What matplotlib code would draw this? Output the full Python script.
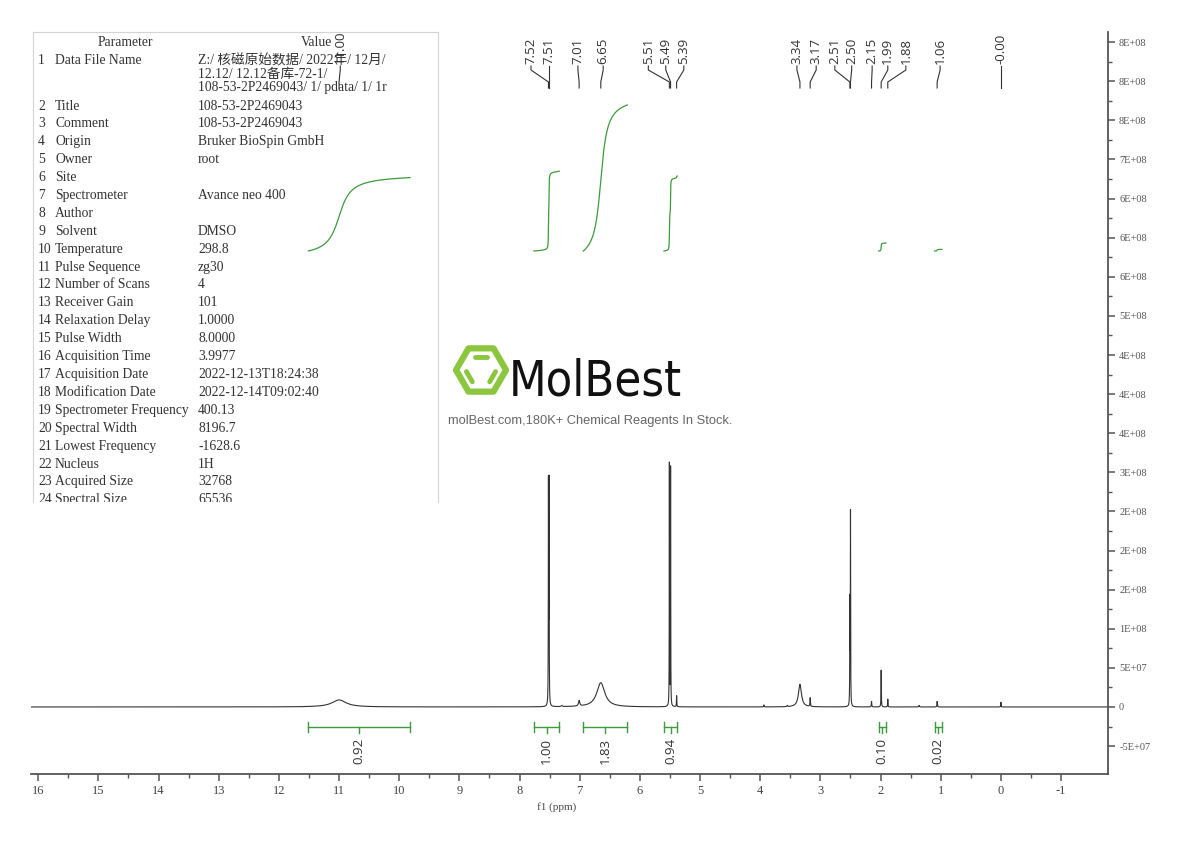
import matplotlib
matplotlib.use('Agg')
import matplotlib.pyplot as plt
import matplotlib.transforms as mtransforms
from matplotlib.patches import RegularPolygon
import numpy as np

W, H = 1190, 841
SERIF = ['Liberation Serif', 'Noto Sans CJK SC']
SANS = ['Open Sans', 'DejaVu Sans']
GREEN = '#3d9a3d'
LOGO_GREEN = '#8cc63f'
AXC = '#555555'

# ── spectrum peaks (ppm, height, half width) ──
peak_ppm = [11.00, 7.52, 7.51, 7.30, 7.01, 6.65, 5.51, 5.49, 5.39, 3.94, 3.55,
            3.34, 3.17, 2.51, 2.50, 2.15, 1.99, 1.88, 1.36, 1.06, 0.00]
peak_height = [9e6, 2.8e8, 2.8e8, 1.5e6, 7e6, 3.1e7, 3.1e8, 3.05e8, 1.4e7, 2.5e6, 1.5e6,
               2.9e7, 1.1e7, 1.3e8, 2.45e8, 7e6, 4.7e7, 1.0e7, 2e6, 7e6, 6e6]
peak_hwhm = [0.143, 0.0025, 0.0025, 0.01, 0.012, 0.08, 0.0022, 0.0022, 0.003, 0.004, 0.006,
             0.03, 0.004, 0.0025, 0.0025, 0.004, 0.003, 0.003, 0.006, 0.004, 0.003]

# ── peak labels ──
label_text = ['11.00', '7.52', '7.51', '7.01', '6.65', '5.51', '5.49', '5.39', '3.34', '3.17',
              '2.51', '2.50', '2.15', '1.99', '1.88', '1.06', '-0.00']
label_peak = [11.00, 7.52, 7.51, 7.01, 6.65, 5.51, 5.49, 5.39, 3.34, 3.17,
              2.51, 2.50, 2.15, 1.99, 1.88, 1.06, 0.00]
label_at = [10.98, 7.81, 7.51, 7.03, 6.61, 5.86, 5.57, 5.27, 3.39, 3.07,
            2.76, 2.48, 2.14, 1.88, 1.58, 1.01, 0.00]

# ── integrals ──
int_from = [11.51, 7.76, 6.94, 5.60, 2.03, 1.10]
int_to = [9.82, 7.34, 6.21, 5.38, 1.91, 0.98]
int_value = [0.92, 1.00, 1.83, 0.94, 0.10, 0.02]

# ── axis ticks ──
xticks = [16, 15, 14, 13, 12, 11, 10, 9, 8, 7, 6, 5, 4, 3, 2, 1, 0, -1]
ytick_vals = [-5e7, 0, 5e7, 1e8, 1.5e8, 2e8, 2.5e8, 3e8, 3.5e8, 4e8, 4.5e8,
              5e8, 5.5e8, 6e8, 6.5e8, 7e8, 7.5e8, 8e8, 8.5e8]
ytick_labels = ['-5E+07', '0', '5E+07', '1E+08', '2E+08', '2E+08', '2E+08', '3E+08', '4E+08',
                '4E+08', '4E+08', '5E+08', '6E+08', '6E+08', '6E+08', '7E+08', '8E+08',
                '8E+08', '8E+08']

# ── parameter table ──
param_name = ['Data File Name', 'Title', 'Comment', 'Origin', 'Owner', 'Site', 'Spectrometer',
              'Author', 'Solvent', 'Temperature', 'Pulse Sequence', 'Number of Scans',
              'Receiver Gain', 'Relaxation Delay', 'Pulse Width', 'Acquisition Time',
              'Acquisition Date', 'Modification Date', 'Spectrometer Frequency',
              'Spectral Width', 'Lowest Frequency', 'Nucleus', 'Acquired Size', 'Spectral Size']
param_value = ['Z:/ 核磁原始数据/ 2022年/ 12月/\n12.12/ 12.12备库-72-1/\n108-53-2P2469043/ 1/ pdata/ 1/ 1r',
               '108-53-2P2469043', '108-53-2P2469043', 'Bruker BioSpin GmbH', 'root', '',
               'Avance neo 400', '', 'DMSO', '298.8', 'zg30', '4', '101', '1.0000', '8.0000',
               '3.9977', '2022-12-13T18:24:38', '2022-12-14T09:02:40', '400.13', '8196.7',
               '-1628.6', '1H', '32768', '65536']

fig = plt.figure(figsize=(W / 100, H / 100), dpi=100)
fig.patch.set_facecolor('white')

# watermark layer, pixel coordinates
wm = fig.add_axes([0, 0, 1, 1], zorder=1)
wm.set_xlim(0, W)
wm.set_ylim(H, 0)
wm.axis('off')
cx, cy, R = 481, 370, 25
wm.add_patch(RegularPolygon((cx, cy), 6, radius=R, orientation=np.pi / 6,
                            fill=False, edgecolor=LOGO_GREEN, lw=4.5, joinstyle='round'))
ang = np.deg2rad([0, 60, 120, 180, 240, 300])
vx = cx + 0.62 * R * np.cos(ang)
vy = cy - 0.62 * R * np.sin(ang)
for i in [1, 3, 5]:
    x0, y0, x1, y1 = vx[i], vy[i], vx[(i + 1) % 6], vy[(i + 1) % 6]
    t0, t1 = 0.12, 0.88
    wm.plot([x0 + (x1 - x0) * t0, x0 + (x1 - x0) * t1],
            [y0 + (y1 - y0) * t0, y0 + (y1 - y0) * t1],
            color=LOGO_GREEN, lw=3.5, solid_capstyle='round')
wm.text(509, 395, 'MolBest', fontsize=35, color='#111111', ha='left', va='baseline',
        family=['Liberation Sans Narrow', 'DejaVu Sans'], fontstretch='condensed')
wm.text(448, 421, 'molBest.com,180K+ Chemical Reagents In Stock.', fontsize=9.3,
        color='#666666', ha='left', va='center', family=['Liberation Sans', 'DejaVu Sans'])

# parameter table, pixel coordinates
tb = fig.add_axes([33 / W, 1 - 502 / H, (438 - 33) / W, (502 - 32) / H], zorder=2)
tb.set_xlim(33, 438)
tb.set_ylim(502, 32)
tb.set_xticks([])
tb.set_yticks([])
for side in ['left', 'top', 'right']:
    tb.spines[side].set_color('#d4d4d4')
tb.spines['bottom'].set_visible(False)
tk = dict(fontsize=9.8, color='#333333', family=SERIF, va='center', clip_on=True)
tb.text(125, 43, 'Parameter', ha='center', **tk)
tb.text(316, 43, 'Value', ha='center', **tk)
for i, (name, val) in enumerate(zip(param_name, param_value)):
    y = 61 if i == 0 else 106 + (i - 1) * 17.9
    tb.text(38, y, str(i + 1), ha='left', **tk)
    tb.text(55, y, name, ha='left', **tk)
    for j, line in enumerate(val.split('\n')):
        tb.text(198, y + j * 13.5, line, ha='left', **tk)

# spectrum axes
ax = fig.add_axes([31 / W, 1 - 774 / H, (1108 - 31) / W, (774 - 32) / H], zorder=3)
ax.patch.set_visible(False)
ppm = np.linspace(16.12, -1.78, 60000)
spec = np.zeros_like(ppm)
for c, h, w in zip(peak_ppm, peak_height, peak_hwhm):
    spec += h / (1 + ((ppm - c) / w) ** 2)
ax.plot(ppm, spec, color='#333333', lw=0.8)
ax.set_xlim(16.12, -1.78)
ax.set_ylim(-8.57e7, 8.63e8)

# integral curves and bars
int_base = 5.83e8
int_scale = 1.02e8
bar_y = -2.56e7
for a, b, v in zip(int_from, int_to, int_value):
    m = (ppm <= a) & (ppm >= b)
    cum = np.cumsum(spec[m])
    cum = cum / cum[-1]
    ax.plot(ppm[m], int_base + v * int_scale * cum, color=GREEN, lw=0.9)
    ax.plot([a, b], [bar_y, bar_y], color=GREEN, lw=1)
    for e in (a, b):
        ax.plot([e, e], [bar_y - 6e6, bar_y + 6e6], color=GREEN, lw=1)
    mid = (a + b) / 2
    ax.plot([mid, mid], [bar_y, bar_y - 8e6], color=GREEN, lw=1)
    ax.text(mid, bar_y - 1.4e7, '{:.2f}'.format(v), rotation=90, ha='center', va='top',
            fontsize=9.5, color='#333333', family=SANS)

# peak labels with connectors
trans = mtransforms.blended_transform_factory(ax.transData, ax.transAxes)
def yf(py):
    return (774 - py) / 742.0
for txt, pk, at in zip(label_text, label_peak, label_at):
    ax.plot([at, at, pk, pk], [yf(66), yf(70), yf(82), yf(88)], color='#333333', lw=0.8,
            transform=trans)
    ax.text(at, yf(64), txt, rotation=90, ha='center', va='bottom', fontsize=9.5,
            color='#333333', family=SANS, transform=trans, clip_on=True)

# axes styling
for side in ['left', 'top']:
    ax.spines[side].set_visible(False)
ax.spines['right'].set_color(AXC)
ax.spines['bottom'].set_color(AXC)
ax.spines['right'].set_linewidth(1.3)
ax.spines['bottom'].set_linewidth(1.3)
ax.set_xticks(xticks)
ax.set_xticklabels([str(t) for t in xticks], family=SERIF, fontsize=9, color='#444444')
ax.set_xticks([t - 0.5 for t in xticks[:-1]], minor=True)
ax.yaxis.tick_right()
ax.set_yticks(ytick_vals)
ax.set_yticklabels(ytick_labels, family=SERIF, fontsize=7.5, color='#555555')
ax.set_yticks([v + 2.5e7 for v in ytick_vals[:-1]], minor=True)
ax.tick_params(axis='both', which='major', direction='out', length=5, width=1.1, color=AXC, pad=3)
ax.tick_params(axis='both', which='minor', direction='out', length=3, width=1.0, color=AXC)
ax.set_xlabel('f1 (ppm)', family=SERIF, fontsize=8, color='#444444')
ax.xaxis.set_label_coords(0.488, -0.038)

fig.savefig('out.png', dpi=100, facecolor='white')
